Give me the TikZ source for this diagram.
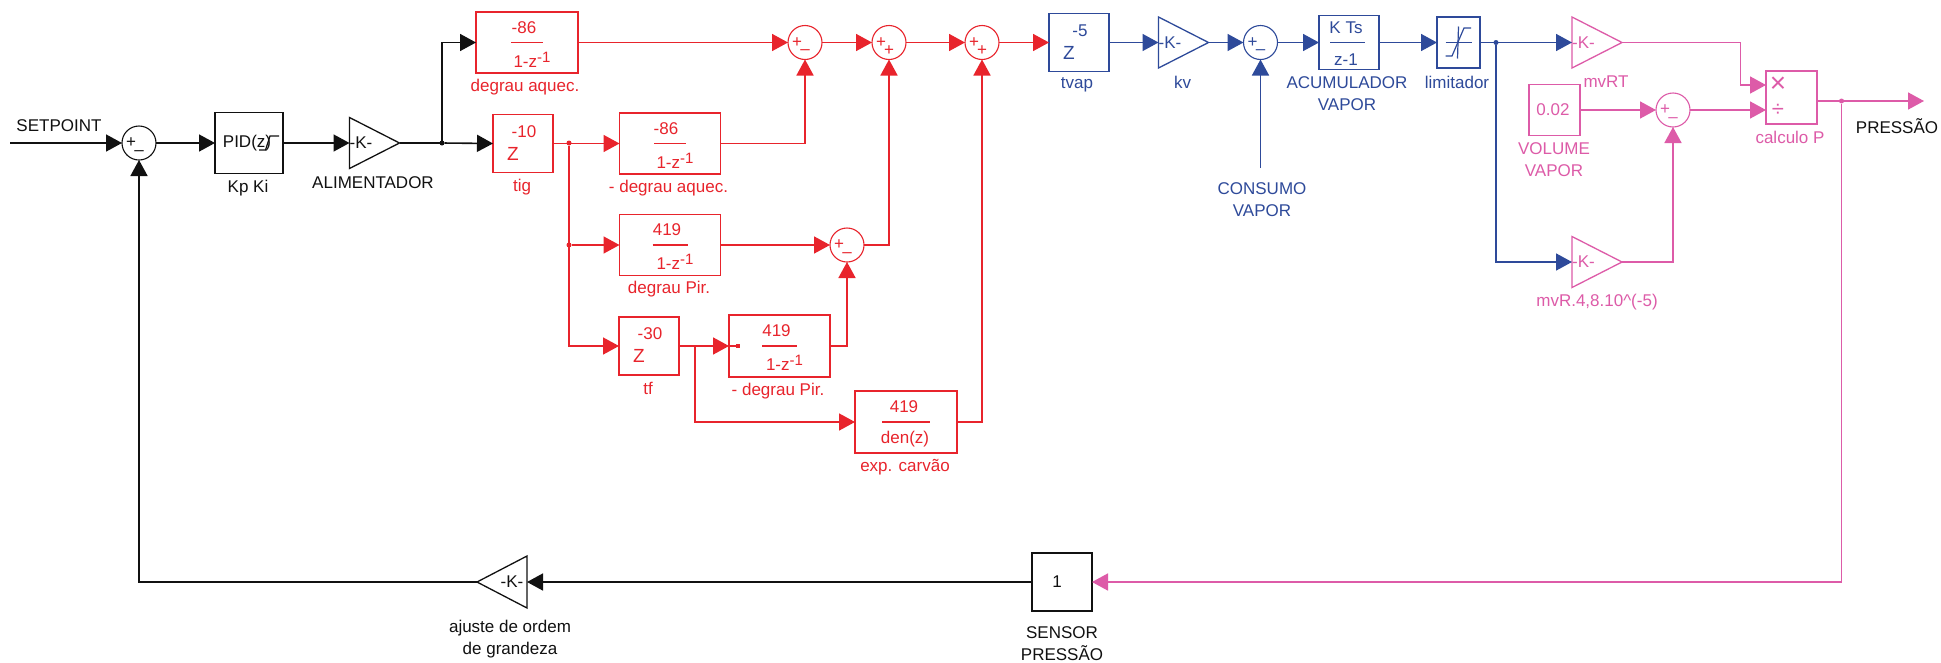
\documentclass[tikz,border=0pt]{standalone}
\usepackage{fontspec}
\setmainfont{Liberation Sans}
\usetikzlibrary{arrows.meta}
\definecolor{rdc}{HTML}{E8242C}
\definecolor{blc}{HTML}{2E4A9A}
\definecolor{pkc}{HTML}{DD5BA8}
\definecolor{bkc}{HTML}{111111}
\newcommand{\TxtSz}{\fontsize{17}{22}\selectfont}
\tikzset{
  blk/.style={draw=#1,line width=1.6pt,inner sep=0pt,outer sep=0pt,fill=white},
  sumn/.style={draw=#1,circle,line width=1.1pt,minimum size=34pt,inner sep=0pt,outer sep=0pt},
  gainbox/.style={minimum width=50pt,minimum height=51pt,inner sep=0pt,outer sep=0pt},
  conn/.style={draw=#1,line width=1.6pt,-{Triangle[length=16pt,width=17pt,fill=#1]}},
  plain/.style={draw=#1,line width=1.6pt},
  lab/.style={text=#1,font=\TxtSz,align=center,inner sep=0pt},
  dotn/.style={circle,fill=#1,minimum size=5pt,inner sep=0pt,outer sep=0pt}
}
% name, colour, numerator, denominator, num dx, den dx, half bar
\newcommand{\Frc}[7]{%
  \node[lab=#2] (#1-n) at ([shift={(#5,-15)}]#1.center) {#3};
  \node[lab=#2] (#1-d) at ([shift={(#6,17)}]#1.center) {#4};
  \draw[plain=#2] ([xshift=-#7pt]#1.center) -- ([xshift=#7pt]#1.center);
}
\newcommand{\ZInv}{1-z\raisebox{5pt}{\fontsize{15}{15}\selectfont -1}}
% name, colour, exponent
\newcommand{\Zed}[3]{%
  \node[lab=#2] (#1-e) at ([shift={(1,-12)}]#1.center) {#3};
  \node[lab=#2,font=\fontsize{19}{19}\selectfont] (#1-z) at ([shift={(-10,10)}]#1.center) {Z};
}
% name, colour, lower sign
\newcommand{\Sgn}[3]{%
  \node[lab=#2] (#1-a) at ([shift={(-8,0)}]#1.center) {+};
  \node[lab=#2] (#1-b) at ([shift={(0,#3)}]#1.center) {\ifnum#3>8 –\else +\fi};
}
% gain triangle: name, edge colour, text colour
\newcommand{\Gain}[3]{%
  \draw[line width=1.3pt,draw=#2,line join=miter] (#1.north west) -- (#1.east) -- (#1.south west) -- cycle;
  \node[lab=#3,anchor=west] (#1-k) at (#1.west) {-K-};
}
\begin{document}
\begin{tikzpicture}[x=1pt,y=-1pt]
\useasboundingbox (0,0) rectangle (1941,662);
\fill[white] (0,0) rectangle (1941,662);

% --- black blocks
\coordinate (inp) at (10,143);
\node[sumn=bkc] (s1) at (139,143) {};
\Sgn{s1}{bkc}{10}
\node[blk=bkc,minimum width=68pt,minimum height=61pt] (pid) at (249,143) {};
\node[lab=bkc] (pidt) at (247,143) {PID(z)};
\draw[plain=bkc,line width=1.2pt] ([shift={(30,-7)}]pid.center) -- ([shift={(21,-7)}]pid.center) -- ([shift={(16.5,7)}]pid.center) -- ([shift={(10,7)}]pid.center);
\node[gainbox] (ali) at (374.5,143) {};
\Gain{ali}{bkc}{bkc}
\node[dotn=bkc] (j1) at (442,143) {};

% --- red blocks
\node[blk=rdc,minimum width=102pt,minimum height=61pt] (aq) at (527,42.5) {};
\Frc{aq}{rdc}{-86}{\ZInv}{-3}{5}{16}
\node[blk=rdc,minimum width=60pt,minimum height=58pt] (tig) at (523,143.5) {};
\Zed{tig}{rdc}{-10}
\node[dotn=rdc] (j2) at (569,143) {};
\node[dotn=rdc] (j3) at (569,245) {};
\node[blk=rdc,minimum width=101pt,minimum height=61pt] (maq) at (670,143.5) {};
\Frc{maq}{rdc}{-86}{\ZInv}{-4}{5}{16}
\node[blk=rdc,minimum width=101pt,minimum height=61pt] (pir) at (670,245) {};
\Frc{pir}{rdc}{419}{\ZInv}{-3}{5}{17.5}
\node[blk=rdc,minimum width=60pt,minimum height=58pt] (tf) at (649,346) {};
\Zed{tf}{rdc}{-30}
\node[blk=rdc,minimum width=101pt,minimum height=62pt] (mpir) at (779.5,346) {};
\Frc{mpir}{rdc}{419}{\ZInv}{-3}{5}{17.5}
\node[dotn=rdc,rectangle,minimum size=4pt] (mpd) at (737.5,346) {};
\node[blk=rdc,minimum width=102pt,minimum height=62pt] (exp) at (906,422) {};
\Frc{exp}{rdc}{419}{den(z)}{-2}{-1}{24}
\coordinate (b1) at (695,346);
\node[sumn=rdc] (s2) at (805,42.5) {};
\Sgn{s2}{rdc}{10}
\node[sumn=rdc] (s3) at (889,42.5) {};
\Sgn{s3}{rdc}{8}
\node[sumn=rdc] (s4) at (982,42.5) {};
\Sgn{s4}{rdc}{8}
\node[sumn=rdc] (s5) at (847,245) {};
\Sgn{s5}{rdc}{10}

% --- blue blocks
\node[blk=blc,minimum width=60pt,minimum height=58pt] (tv) at (1079,42.5) {};
\Zed{tv}{blc}{-5}
\node[gainbox] (kv) at (1183.5,42.5) {};
\Gain{kv}{blc}{blc}
\node[sumn=blc] (s6) at (1260.5,42.5) {};
\Sgn{s6}{blc}{10}
\coordinate (cons) at (1260.5,168);
\node[blk=blc,minimum width=60pt,minimum height=54pt] (acc) at (1349,42.5) {};
\node[lab=blc] (acc-n) at (1346,28) {K Ts};
\node[lab=blc] (acc-d) at (1346,60) {z-1};
\draw[plain=blc] ([xshift=-19pt]acc.center) -- ([xshift=16pt]acc.center);
\node[blk=blc,minimum width=43pt,minimum height=51pt] (lim) at (1458.5,42.5) {};
\draw[plain=blc,line width=1.2pt] ([xshift=-13pt]lim.center) -- ([xshift=13pt]lim.center);
\draw[plain=blc,line width=1.2pt] ([shift={(0,-16)}]lim.center) -- ([shift={(-1,16)}]lim.center);
\draw[plain=blc,line width=1.2pt] ([shift={(-13,13.5)}]lim.center) -- ([shift={(-6.5,13.5)}]lim.center) -- ([shift={(5.5,-14.5)}]lim.center) -- ([shift={(12.5,-14.5)}]lim.center);
\node[dotn=blc] (j4) at (1496,42.5) {};

% --- pink blocks
\node[gainbox] (rt) at (1597,42.5) {};
\Gain{rt}{pkc}{pkc}
\node[gainbox] (mvr) at (1597,262) {};
\Gain{mvr}{pkc}{pkc}
\node[blk=pkc,minimum width=51pt,minimum height=51pt] (vol) at (1554.5,110) {};
\node[lab=pkc] (volt) at (1553,110) {0.02};
\node[sumn=pkc] (s7) at (1673,110) {};
\Sgn{s7}{pkc}{10}
\node[blk=pkc,minimum width=51pt,minimum height=53pt] (calc) at (1791.5,97.5) {};
\node[lab=pkc,font=\fontsize{28}{28}\selectfont] (calcx) at (1778,85) {×};
\node[lab=pkc,font=\fontsize{22}{22}\selectfont] (calcd) at (1778,110) {÷};
\coordinate (ci1) at (1766,85);
\coordinate (ci2) at (1766,110);
\coordinate (co) at (1817,101);
\node[dotn=pkc] (j5) at (1841.5,101) {};
\coordinate (out) at (1924,101);

% --- feedback blocks
\node[blk=bkc,minimum width=60pt,minimum height=58pt] (sen) at (1062,582) {};
\node[lab=bkc] (sent) at (1057,582) {1};
\node[minimum width=50pt,minimum height=52pt,inner sep=0pt,outer sep=0pt] (adj) at (502,582) {};
\draw[line width=1.3pt,draw=bkc] (adj.north east) -- (adj.west) -- (adj.south east) -- cycle;
\node[lab=bkc] (adjt) at (512,582) {-K-};

% --- connectors: black
\draw[conn=bkc] (inp) -- (s1.west);
\draw[conn=bkc] (s1.east) -- (pid.west);
\draw[conn=bkc] (pid.east) -- (ali.west);
\draw[plain=bkc] (ali.east) -- (j1);
\draw[conn=bkc] (j1) -- (tig.west);
\draw[conn=bkc] (j1) |- (aq.west);
\draw[conn=bkc] (sen.west) -- (adj.east);
\draw[conn=bkc] (adj.west) -| (s1.south);

% --- connectors: red
\draw[conn=rdc] (aq.east) -- (s2.west);
\draw[conn=rdc] (s2.east) -- (s3.west);
\draw[conn=rdc] (s3.east) -- (s4.west);
\draw[conn=rdc] (s4.east) -- (tv.west);
\draw[conn=rdc] (tig.east) -- (maq.west);
\draw[plain=rdc] (j2) -- (j3);
\draw[conn=rdc] (j3) -- (pir.west);
\draw[conn=rdc] (j2) |- (tf.west);
\draw[conn=rdc] (maq.east) -| (s2.south);
\draw[conn=rdc] (pir.east) -- (s5.west);
\draw[conn=rdc] (s5.east) -| (s3.south);
\draw[conn=rdc] (tf.east) -- (mpir.west);
\draw[plain=rdc] (mpir.west) -- (mpd);
\draw[conn=rdc] (mpir.east) -| (s5.south);
\draw[conn=rdc] (b1) |- (exp.west);
\draw[conn=rdc] (exp.east) -| (s4.south);

% --- connectors: blue
\draw[conn=blc] (tv.east) -- (kv.west);
\draw[conn=blc] (kv.east) -- (s6.west);
\draw[conn=blc] (s6.east) -- (acc.west);
\draw[conn=blc] (cons) -- (s6.south);
\draw[conn=blc] (acc.east) -- (lim.west);
\draw[conn=blc] (lim.east) -- (rt.west);
\draw[conn=blc] (j4) |- (mvr.west);

% --- connectors: pink
\draw[conn=pkc] (rt.east) -- (1740.5,42.5) |- (ci1);
\draw[conn=pkc] (vol.east) -- (s7.west);
\draw[conn=pkc] (s7.east) -- (ci2);
\draw[conn=pkc] (mvr.east) -| (s7.south);
\draw[conn=pkc] (co) -- (out);
\draw[conn=pkc] (j5) |- (sen.east);

% --- labels
\node[lab=bkc] (l1) at (59,126) {SETPOINT};
\node[lab=bkc] (l2) at (248,188) {Kp Ki};
\node[lab=bkc] (l3) at (373,183) {ALIMENTADOR};
\node[lab=rdc] (l4) at (525,87) {degrau aquec.};
\node[lab=rdc] (l5) at (522,187) {tig};
\node[lab=rdc] (l6) at (668.5,188) {- degrau aquec.};
\node[lab=rdc] (l7) at (669,289) {degrau Pir.};
\node[lab=rdc] (l8) at (648,388) {tf};
\node[lab=rdc] (l9) at (778,391) {- degrau Pir.};
\node[lab=rdc] (l10) at (905,467) {exp. carvão};
\node[lab=blc] (l11) at (1077,85) {tvap};
\node[lab=blc] (l12) at (1182.5,82) {kv};
\node[lab=blc] (l13) at (1262,200) {CONSUMO\\VAPOR};
\node[lab=blc] (l14) at (1347,94) {ACUMULADOR\\VAPOR};
\node[lab=blc] (l15) at (1457,82) {limitador};
\node[lab=pkc] (l16) at (1606,82) {mvRT};
\node[lab=pkc] (l17) at (1554,160) {VOLUME\\VAPOR};
\node[lab=pkc] (l18) at (1790,137) {calculo P};
\node[lab=bkc] (l19) at (1897,126) {PRESSÃO};
\node[lab=pkc] (l20) at (1597,302) {mvR.4,8.10\^{}(-5)};
\node[lab=bkc] (l21) at (510,639) {ajuste de ordem\\de grandeza};
\node[lab=bkc] (l22) at (1062,644) {SENSOR\\PRESSÃO};
\end{tikzpicture}
\end{document}
